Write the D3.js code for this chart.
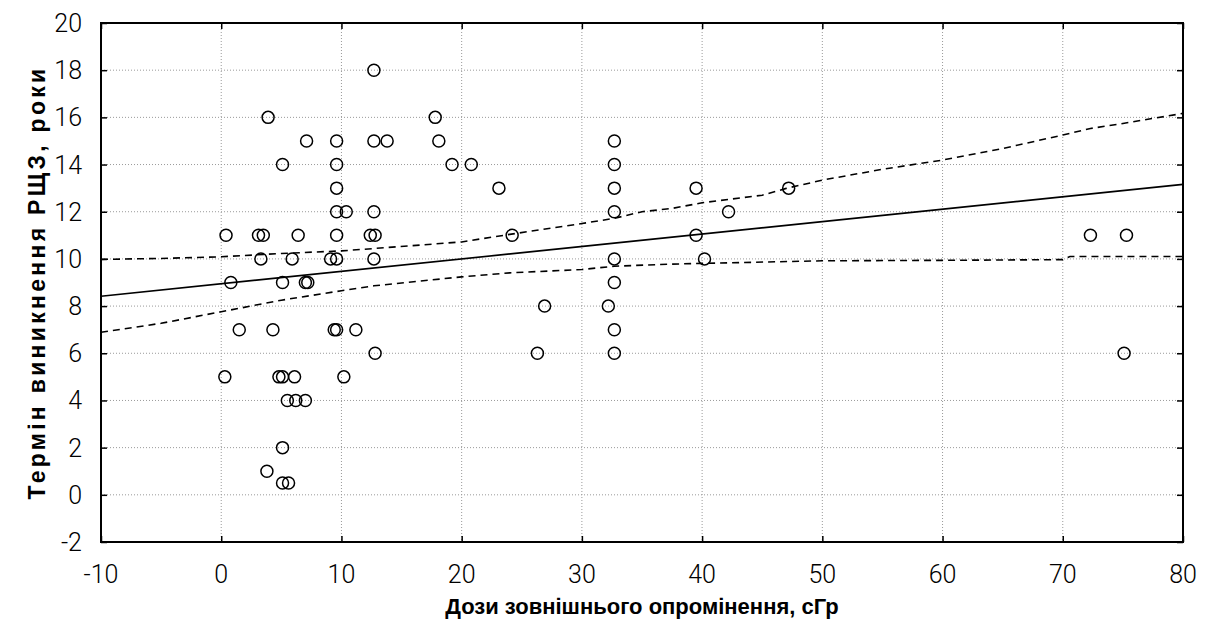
<!DOCTYPE html>
<html>
<head>
<meta charset="utf-8">
<script src="https://d3js.org/d3.v7.min.js"></script>
<style>
    body { margin: 0; background: white; }
    .tick-label { font-family: Roboto, "Liberation Sans", Arial, sans-serif; font-weight: 300; font-size: 25px; fill: black; }
    .axis-title { font-family: "Liberation Sans", Arial, sans-serif; font-weight: bold; font-size: 22px; fill: black; }
    .y-title { font-size: 23px; letter-spacing: 3.3px; }
</style>
</head>
<body>
<div id="chart"></div>
<script>

// tick values
let xTicks = [-10, 0, 10, 20, 30, 40, 50, 60, 70, 80];
let yTicks = [-2, 0, 2, 4, 6, 8, 10, 12, 14, 16, 18, 20];

// observations: dose (cGy) and term (years)
let doseX = [
    12.7,
    3.9, 17.8,
    7.1, 9.6, 12.7, 13.8, 18.1, 32.7,
    5.1, 9.6, 19.2, 20.8, 32.7,
    9.6, 23.1, 32.7, 39.5, 47.2,
    9.6, 10.4, 12.7, 32.7, 42.2,
    0.4, 3.1, 3.5, 6.4, 9.6, 12.4, 12.8, 24.2, 39.5, 72.3, 75.3,
    3.3, 5.9, 9.1, 9.6, 12.7, 32.7, 40.2,
    0.8, 5.1, 7.0, 7.2, 32.7,
    26.9, 32.2,
    1.5, 4.3, 9.4, 9.6, 11.2, 32.7,
    12.8, 26.3, 32.7, 75.1,
    0.3, 4.8, 5.1, 6.1, 10.2,
    5.5, 6.2, 7.0,
    5.1,
    3.8,
    5.1, 5.6
];
let termY = [
    18,
    16, 16,
    15, 15, 15, 15, 15, 15,
    14, 14, 14, 14, 14,
    13, 13, 13, 13, 13,
    12, 12, 12, 12, 12,
    11, 11, 11, 11, 11, 11, 11, 11, 11, 11, 11,
    10, 10, 10, 10, 10, 10, 10,
    9, 9, 9, 9, 9,
    8, 8,
    7, 7, 7, 7, 7, 7,
    6, 6, 6, 6,
    5, 5, 5, 5, 5,
    4, 4, 4,
    2,
    1,
    0.5, 0.5
];

// fitted regression line (read at the ends)
let fitX = [-10, 80];
let fitY = [8.42, 13.16];

// upper confidence band
let upX = [-10, -5, 0, 5, 10, 12.7, 20, 24, 30, 32.7, 35, 37.5, 40, 45, 47, 50, 55, 60, 65, 70, 72.3, 75, 80];
let upY = [9.98, 10.02, 10.09, 10.23, 10.34, 10.44, 10.72, 11.04, 11.5, 11.72, 12.0, 12.14, 12.38, 12.7, 12.99, 13.34, 13.8, 14.19, 14.68, 15.25, 15.53, 15.74, 16.17];

// lower confidence band
let lowX = [-10, -5, 0, 5, 10, 12.7, 20, 24, 30, 32.7, 37.5, 40, 50, 60, 70, 70.6, 80];
let lowY = [6.89, 7.27, 7.76, 8.25, 8.65, 8.86, 9.24, 9.41, 9.55, 9.69, 9.78, 9.81, 9.92, 9.94, 9.97, 10.1, 10.1];


class ScatterVis {

    constructor(parentElement) {
        this.parentElement = parentElement;
        this.initVis();
    }

    initVis() {
        let vis = this;

        vis.width = 1205;
        vis.height = 626;
        vis.margin = {top: 23, right: 22, bottom: 84, left: 101};

        vis.svg = d3.select(`#${vis.parentElement}`)
            .append("svg")
            .attr("width", vis.width)
            .attr("height", vis.height);

        vis.x = d3.scaleLinear()
            .domain([-10, 80])
            .range([vis.margin.left, vis.width - vis.margin.right]);

        vis.y = d3.scaleLinear()
            .domain([-2, 20])
            .range([vis.height - vis.margin.bottom, vis.margin.top]);

        let x0 = vis.x.range()[0], x1 = vis.x.range()[1];
        let y0 = vis.y.range()[0], y1 = vis.y.range()[1];

        // dotted grid
        let grid = vis.svg.append("g").attr("class", "grid");
        grid.selectAll(".vgrid")
            .data(xTicks.slice(1, -1))
            .enter().append("line")
            .attr("x1", d => vis.x(d)).attr("x2", d => vis.x(d))
            .attr("y1", y1).attr("y2", y0)
            .attr("stroke", "#9a9a9a")
            .attr("stroke-width", 1)
            .attr("stroke-dasharray", "1,2");
        grid.selectAll(".hgrid")
            .data(yTicks.slice(1, -1))
            .enter().append("line")
            .attr("y1", d => vis.y(d)).attr("y2", d => vis.y(d))
            .attr("x1", x0).attr("x2", x1)
            .attr("stroke", "#9a9a9a")
            .attr("stroke-width", 1)
            .attr("stroke-dasharray", "1,2");

        // axes with inward ticks on all sides, labels drawn separately
        let tickLen = 6;
        vis.svg.append("g")
            .attr("transform", `translate(0, ${y0})`)
            .call(d3.axisTop(vis.x).tickValues(xTicks).tickSize(tickLen).tickFormat(""));
        vis.svg.append("g")
            .attr("transform", `translate(0, ${y1})`)
            .call(d3.axisBottom(vis.x).tickValues(xTicks).tickSize(tickLen).tickFormat(""));
        vis.svg.append("g")
            .attr("transform", `translate(${x0}, 0)`)
            .call(d3.axisRight(vis.y).tickValues(yTicks).tickSize(tickLen).tickFormat(""));
        vis.svg.append("g")
            .attr("transform", `translate(${x1}, 0)`)
            .call(d3.axisLeft(vis.y).tickValues(yTicks).tickSize(tickLen).tickFormat(""));
        vis.svg.selectAll(".domain").remove();
        vis.svg.selectAll(".tick line").attr("stroke", "black").attr("stroke-width", 1.5);

        // tick labels
        vis.svg.append("g").selectAll("text")
            .data(xTicks)
            .enter().append("text")
            .attr("class", "tick-label")
            .attr("x", d => vis.x(d))
            .attr("y", y0 + 41)
            .attr("text-anchor", "middle")
            .text(d => d);
        vis.svg.append("g").selectAll("text")
            .data(yTicks)
            .enter().append("text")
            .attr("class", "tick-label")
            .attr("x", x0 - 19)
            .attr("y", d => vis.y(d) + 9)
            .attr("text-anchor", "end")
            .text(d => d);

        // axis titles
        vis.svg.append("text")
            .attr("class", "axis-title")
            .attr("x", (x0 + x1) / 2)
            .attr("y", 614)
            .attr("text-anchor", "middle")
            .text("Дози зовнішнього опромінення, сГр");
        vis.svg.append("text")
            .attr("class", "axis-title y-title")
            .attr("transform", `translate(45, ${(y0 + y1) / 2}) rotate(-90)`)
            .attr("text-anchor", "middle")
            .text("Термін виникнення РЩЗ, роки");

        vis.updateVis();
    }

    updateVis() {
        let vis = this;

        let line = d3.line()
            .x(d => vis.x(d[0]))
            .y(d => vis.y(d[1]));

        // confidence bands
        vis.svg.append("path")
            .datum(d3.zip(upX, upY))
            .attr("d", line)
            .attr("fill", "none")
            .attr("stroke", "black")
            .attr("stroke-width", 1.6)
            .attr("stroke-dasharray", "7,5");
        vis.svg.append("path")
            .datum(d3.zip(lowX, lowY))
            .attr("d", line)
            .attr("fill", "none")
            .attr("stroke", "black")
            .attr("stroke-width", 1.6)
            .attr("stroke-dasharray", "7,5");

        // regression line
        vis.svg.append("path")
            .datum(d3.zip(fitX, fitY))
            .attr("d", line)
            .attr("fill", "none")
            .attr("stroke", "black")
            .attr("stroke-width", 1.6);

        // points
        vis.svg.append("g").selectAll("circle")
            .data(d3.zip(doseX, termY))
            .enter().append("circle")
            .attr("cx", d => vis.x(d[0]))
            .attr("cy", d => vis.y(d[1]))
            .attr("r", 6)
            .attr("fill", "none")
            .attr("stroke", "black")
            .attr("stroke-width", 1.5);

        // frame
        vis.svg.append("rect")
            .attr("x", vis.x.range()[0])
            .attr("y", vis.y.range()[1])
            .attr("width", vis.x.range()[1] - vis.x.range()[0])
            .attr("height", vis.y.range()[0] - vis.y.range()[1])
            .attr("fill", "none")
            .attr("stroke", "black")
            .attr("stroke-width", 2);
    }
}

new ScatterVis("chart");

</script>
</body>
</html>
